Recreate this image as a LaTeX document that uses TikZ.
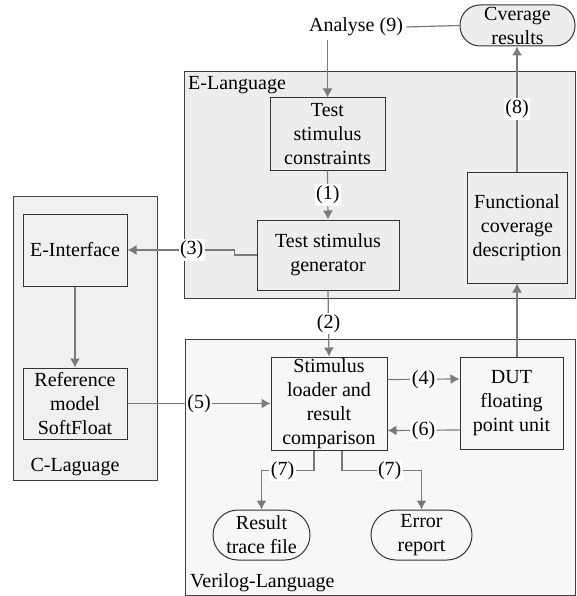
\documentclass[tikz,border=0pt]{standalone}
\usepackage{fontspec}
\setmainfont{Liberation Serif}
\usetikzlibrary{arrows.meta}
\usetikzlibrary{calc}

\begin{document}
\begin{tikzpicture}[x=1pt,y=-1pt,>={Latex[length=9pt,width=10pt]},
    font=\fontsize{20}{24}\selectfont,
    region/.style={draw=black!75,line width=1pt},
    box/.style={draw=black!80,line width=1pt,align=center,inner sep=0pt},
    term/.style={box,rounded corners=25pt},
    link/.style={draw=black!52,line width=1.2pt},
    lbl/.style={fill=white,inner sep=1.5pt}]
    \useasboundingbox (0,0) rectangle (576,596);
    \filldraw[region,fill=black!7] (184,72) rectangle (575,298);
    \filldraw[region,fill=black!6] (13,196) rectangle (157,480);
    \filldraw[region,fill=black!3] (185,339) rectangle (575,595);
    \node[anchor=west,inner sep=0pt] (elang) at (188,85) {E-Language};
    \node (clang) at (75,467) {C-Laguage};
    \node[anchor=west,inner sep=0pt] (vlang) at (190,583) {Verilog-Language};
    \node (ana) at (356,27) {Analyse (9)};
    \node[term,fill=black!7,minimum width=115pt,minimum height=41pt,rounded corners=20pt] (cov) at (517.5,25.5) {Cverage\\results};
    \node[box,minimum width=115pt,minimum height=72pt] (cons) at (327.5,134) {Test\\stimulus\\constraints};
    \node[box,minimum width=142pt,minimum height=70pt] (gen) at (328,255) {Test stimulus\\generator};
    \node[box,minimum width=100pt,minimum height=111pt] (func) at (517,227.5) {Functional\\coverage\\description};
    \node[box,minimum width=104pt,minimum height=72pt] (eif) at (75,250) {E-Interface};
    \node[box,minimum width=104pt,minimum height=71pt] (ref) at (75,403.5) {Reference\\model\\SoftFloat};
    \node[box,minimum width=116pt,minimum height=93pt] (stim) at (329,403.5) {Stimulus\\loader and\\result\\comparison};
    \node[box,minimum width=103pt,minimum height=92pt] (dut) at (511.5,403) {DUT\\floating\\point unit};
    \node[term,minimum width=97pt,minimum height=50pt] (res) at (261.5,535) {Result\\trace file};
    \node[term,minimum width=101pt,minimum height=50pt] (err) at (421.5,535) {Error\\report};
    \draw[link] (ana.east) -- (cov.west);
    \draw[link,->] (ana.south -| cons.north) -- (cons.north);
    \draw[link,->] (cons.south) -- node[lbl]{(1)} (gen.north);
    \draw[link,->] (gen.south) -- node[lbl]{(2)} (stim.north);
    \draw[link,->] (gen.west) -- ++(-22,0) -- ++(0,-5) -- node[lbl,pos=0.4]{(3)} (eif.east);
    \draw[link,->] (eif.south) -- (ref.north);
    \draw[link,->] (ref.east) -- node[lbl]{(5)} (stim.west);
    \draw[link,->] ($(stim.east)+(0,-24)$) -- node[lbl]{(4)} ($(dut.west)+(0,-24)$);
    \draw[link,->] ($(dut.west)+(0,27)$) -- node[lbl]{(6)} ($(stim.east)+(0,27)$);
    \draw[link,->] (dut.north -| func.south) -- (func.south);
    \draw[link,->] (func.north) -- node[lbl]{(8)} (func.north |- cov.south);
    \draw[link,->] ($(stim.south)+(-15,0)$) -- ++(0,20) -| node[lbl,pos=0.3]{(7)} (res.north);
    \draw[link,->] ($(stim.south)+(13,0)$) -- ++(0,20) -| node[lbl,pos=0.3]{(7)} (err.north);
\end{tikzpicture}
\end{document}
